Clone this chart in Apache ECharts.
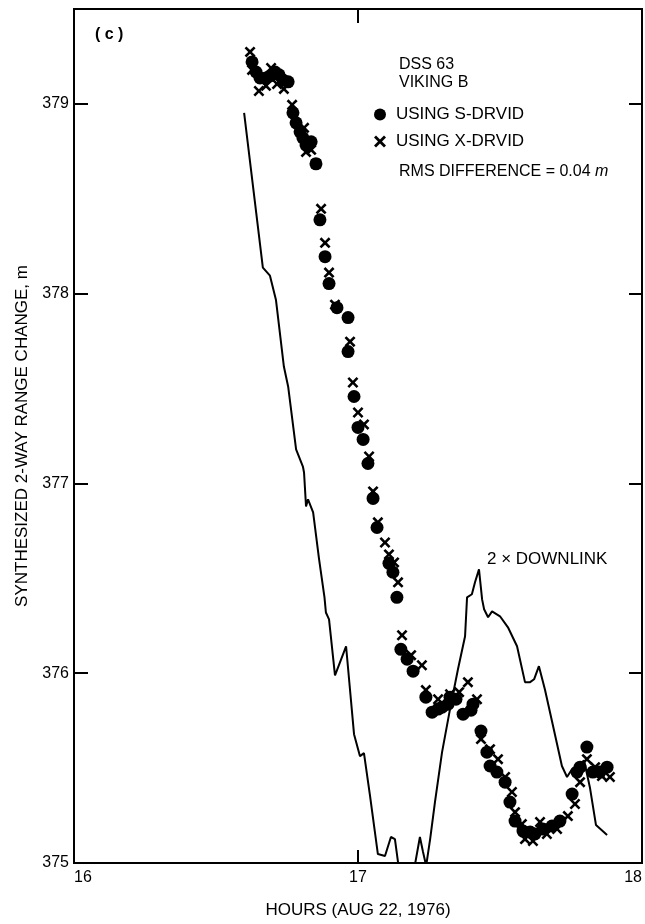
<!DOCTYPE html>
<html><head><meta charset="utf-8">
<script src="https://cdn.jsdelivr.net/npm/echarts/dist/echarts.min.js"></script>
<style>html,body{margin:0;padding:0;background:#fff}#c{width:645px;height:924px}</style>
</head><body><div id="c"></div>
<script>
// ---- data ----
const xRange = [16, 18];
const yRange = [375, 379.5];
const xLabelsShown = [16, 17, 18];
const yLabelsShown = [375, 376, 377, 378, 379];

const sDrvid = [
  [16.627,379.221],[16.641,379.168],[16.655,379.137],[16.676,379.137],[16.690,379.147],
  [16.708,379.168],[16.722,379.153],[16.736,379.126],[16.754,379.116],[16.771,378.953],
  [16.782,378.900],[16.796,378.853],[16.806,378.821],[16.817,378.784],[16.835,378.800],
  [16.852,378.684],[16.866,378.389],[16.884,378.195],[16.898,378.053],[16.926,377.926],
  [16.965,377.874],[16.965,377.695],[16.986,377.458],[17.000,377.295],[17.018,377.232],
  [17.035,377.105],[17.053,376.921],[17.067,376.768],[17.109,376.579],[17.123,376.532],
  [17.137,376.400],[17.151,376.126],[17.173,376.074],[17.194,376.011],[17.239,375.874],
  [17.261,375.795],[17.282,375.811],[17.296,375.821],[17.317,375.837],[17.324,375.874],
  [17.345,375.863],[17.370,375.784],[17.398,375.805],[17.405,375.837],[17.433,375.695],
  [17.454,375.584],[17.465,375.511],[17.489,375.479],[17.518,375.426],[17.535,375.321],
  [17.553,375.221],[17.581,375.168],[17.606,375.163],[17.623,375.153],[17.651,375.179],
  [17.683,375.195],[17.711,375.221],[17.754,375.363],[17.771,375.479],[17.782,375.505],
  [17.806,375.611],[17.827,375.479],[17.852,375.479],[17.877,375.505]
];

const xDrvid = [
  [16.620,379.274],[16.627,379.179],[16.651,379.068],[16.676,379.095],[16.694,379.189],
  [16.715,379.105],[16.739,379.079],[16.768,378.995],[16.810,378.874],[16.817,378.747],
  [16.835,378.758],[16.852,378.684],[16.870,378.447],[16.884,378.268],[16.898,378.111],
  [16.919,377.942],[16.972,377.747],[16.982,377.532],[17.000,377.374],[17.021,377.311],
  [17.039,377.142],[17.053,376.958],[17.070,376.795],[17.095,376.689],[17.109,376.626],
  [17.127,376.584],[17.141,376.479],[17.155,376.200],[17.187,376.095],[17.225,376.042],
  [17.239,375.911],[17.282,375.863],[17.324,375.889],[17.356,375.900],[17.387,375.953],
  [17.419,375.863],[17.433,375.653],[17.465,375.600],[17.493,375.547],[17.518,375.453],
  [17.542,375.374],[17.553,375.268],[17.577,375.205],[17.588,375.126],[17.616,375.116],
  [17.641,375.216],[17.665,375.153],[17.701,375.179],[17.739,375.247],[17.764,375.311],
  [17.782,375.426],[17.806,375.547],[17.835,375.505],[17.859,375.458],[17.887,375.453]
];

const downlink = [
  [16.599,378.953],[16.665,378.137],[16.690,378.095],[16.711,377.968],[16.739,377.616],
  [16.754,377.511],[16.782,377.179],[16.806,377.089],[16.810,377.058],[16.817,376.879],
  [16.824,376.916],[16.842,376.847],[16.863,376.600],[16.882,376.400],[16.887,376.320],
  [16.898,376.284],[16.919,375.989],[16.958,376.142],[16.986,375.679],[17.007,375.563],
  [17.021,375.579],[17.042,375.358],[17.070,375.047],[17.095,375.037],[17.116,375.137],
  [17.130,375.126],[17.144,374.970],[17.170,374.800],[17.198,374.970],[17.218,375.137],
  [17.229,375.058],[17.240,374.985],[17.254,375.126],[17.271,375.321],[17.296,375.584],
  [17.324,375.811],[17.352,376.021],[17.377,376.195],[17.384,376.400],[17.401,376.416],
  [17.412,376.479],[17.426,376.547],[17.437,376.389],[17.444,376.337],[17.458,376.295],
  [17.472,376.326],[17.500,376.300],[17.528,376.242],[17.560,376.142],[17.588,375.953],
  [17.606,375.953],[17.620,375.968],[17.637,376.037],[17.658,375.916],[17.687,375.721],
  [17.718,375.511],[17.736,375.453],[17.754,375.495],[17.796,375.540],[17.817,375.395],
  [17.838,375.200],[17.877,375.147]
];

// ---- chart ----
const FONT = '"Liberation Sans", Arial, sans-serif';
const X_PATH = 'path://M0,2 L2,0 L6,4 L10,0 L12,2 L8,6 L12,10 L10,12 L6,8 L2,12 L0,10 L4,6 Z';
const chart = echarts.init(document.getElementById('c'), null, {renderer:'canvas'});

const tickStyle = {lineStyle:{color:'#000', width:2}};
const baseX = {
  type:'value', min:xRange[0], max:xRange[1], interval:1,
  splitLine:{show:false}, axisLine:{show:true, lineStyle:{color:'#000', width:2}}
};
const baseY = {
  type:'value', min:yRange[0], max:yRange[1], interval:1,
  splitLine:{show:false}, axisLine:{show:true, lineStyle:{color:'#000', width:2}}
};

chart.setOption({
  animation:false,
  backgroundColor:'#fff',
  grid:{left:74, right:3, top:9, bottom:60, show:true, borderColor:'#000', borderWidth:2},
  xAxis:[
    Object.assign({}, baseX, {
      position:'bottom',
      axisTick:Object.assign({inside:true, length:13}, tickStyle),
      axisLabel:{
        fontSize:16, color:'#000', fontFamily:FONT, margin:7,
        alignMinLabel:'left', alignMaxLabel:'right',
        formatter:v => xLabelsShown.includes(v) ? String(v) : ''
      },
      name:'HOURS (AUG 22, 1976)', nameLocation:'middle', nameGap:39,
      nameTextStyle:{fontSize:17, color:'#000', fontFamily:FONT}
    }),
    Object.assign({}, baseX, {
      position:'top',
      axisTick:Object.assign({inside:true, length:14}, tickStyle),
      axisLabel:{show:false}
    })
  ],
  yAxis:[
    Object.assign({}, baseY, {
      position:'left',
      axisTick:Object.assign({inside:true, length:14}, tickStyle),
      axisLabel:{
        fontSize:16, color:'#000', fontFamily:FONT, margin:5, showMaxLabel:false,
        formatter:v => yLabelsShown.includes(v) ? String(v) : ''
      },
      name:'SYNTHESIZED 2-WAY RANGE CHANGE, m', nameLocation:'middle', nameGap:43,
      nameTextStyle:{fontSize:17, color:'#000', fontFamily:FONT}
    }),
    Object.assign({}, baseY, {
      position:'right',
      axisTick:Object.assign({inside:true, length:13}, tickStyle),
      axisLabel:{show:false}
    })
  ],
  legend:{
    orient:'vertical', left:369, top:101, itemWidth:12, itemHeight:12, itemGap:10,
    textStyle:{fontSize:17, color:'#000', fontFamily:FONT, lineHeight:16, padding:[0,0,0,5]},
    data:[{name:'USING S-DRVID', icon:'circle'}, {name:'USING X-DRVID', icon:X_PATH}]
  },
  graphic:[
    {type:'text', x:95, y:35, style:{text:'( c )', font:'bold 16px ' + FONT, fill:'#000', verticalAlign:'middle'}},
    {type:'text', x:399, y:65, style:{text:'DSS 63', font:'16px ' + FONT, fill:'#000', verticalAlign:'middle'}},
    {type:'text', x:399, y:83, style:{text:'VIKING B', font:'16px ' + FONT, fill:'#000', verticalAlign:'middle'}},
    {type:'text', x:399, y:172, style:{
      text:'RMS DIFFERENCE = 0.04 {i|m}', font:'16px ' + FONT, fill:'#000', verticalAlign:'middle',
      rich:{i:{fontStyle:'italic', fontSize:16, fontFamily:FONT, fill:'#000'}}}},
    {type:'text', x:487, y:559, style:{text:'2 × DOWNLINK', font:'17px ' + FONT, fill:'#000', verticalAlign:'middle'}}
  ],
  series:[
    {name:'2×DOWNLINK', type:'line', data:downlink, showSymbol:false, symbol:'none',
     lineStyle:{color:'#000', width:2}, clip:true, z:2},
    {name:'USING S-DRVID', type:'scatter', data:sDrvid, symbol:'circle', symbolSize:13,
     itemStyle:{color:'#000', opacity:1}, z:3},
    {name:'USING X-DRVID', type:'scatter', data:xDrvid, symbol:X_PATH, symbolSize:11,
     itemStyle:{color:'#000', opacity:1}, z:4}
  ]
});
</script>
</body></html>
